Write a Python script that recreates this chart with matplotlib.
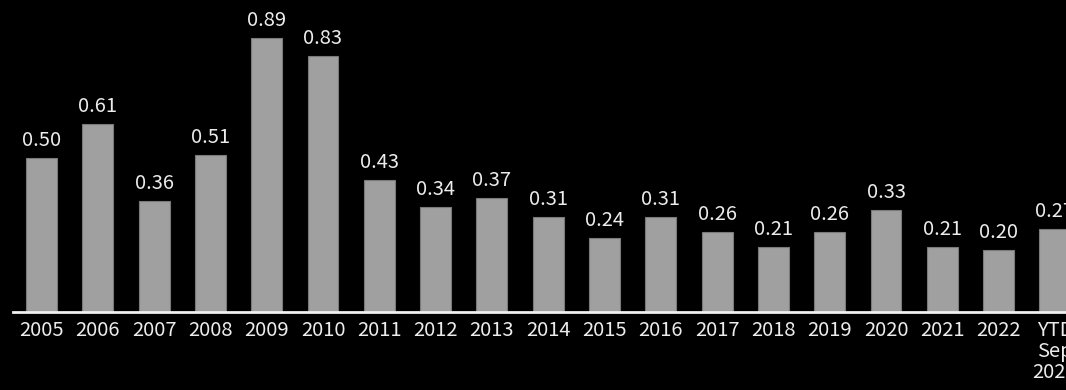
import matplotlib
matplotlib.use("Agg")
import matplotlib.pyplot as plt

labels = ["2005", "2006", "2007", "2008", "2009", "2010", "2011", "2012", "2013",
          "2014", "2015", "2016", "2017", "2018", "2019", "2020", "2021", "2022",
          "YTD\nSep\n2023"]
values = [0.50, 0.61, 0.36, 0.51, 0.89, 0.83, 0.43, 0.34, 0.37,
          0.31, 0.24, 0.31, 0.26, 0.21, 0.26, 0.33, 0.21, 0.20, 0.27]

plt.rcParams["font.family"] = ["Noto Sans CJK SC", "DejaVu Sans"]
plt.rcParams["font.weight"] = "light"

fig = plt.figure(figsize=(10.66, 3.90), dpi=100, facecolor="black")
ax = fig.add_axes([13 / 1066, 78 / 390, 1 - 13 / 1066, 312 / 390])
ax.set_facecolor("black")

x = list(range(len(values)))
bars = ax.bar(x, values, width=0.55, color="#a0a0a0", edgecolor="#7a7a7a", linewidth=0.8)
for xi, v in zip(x, values):
    ax.annotate(f"{v:.2f}", (xi, v), xytext=(0, 5), textcoords="offset points",
                ha="center", va="bottom", color="#ececec", fontsize=14.5, annotation_clip=False)

ax.set_xlim(-0.506, 18.197)
ax.set_ylim(0, 1.013)
ax.set_xticks(x)
ax.set_xticklabels(labels, color="#ececec", fontsize=14.5, linespacing=1.0)
ax.tick_params(axis="x", length=0, pad=6)
ax.set_yticks([])
for s in ["top", "right", "left"]:
    ax.spines[s].set_visible(False)
ax.spines["bottom"].set_color("#f0f0f0")
ax.spines["bottom"].set_linewidth(2)

fig.savefig("out.png", dpi=100, facecolor="black")
